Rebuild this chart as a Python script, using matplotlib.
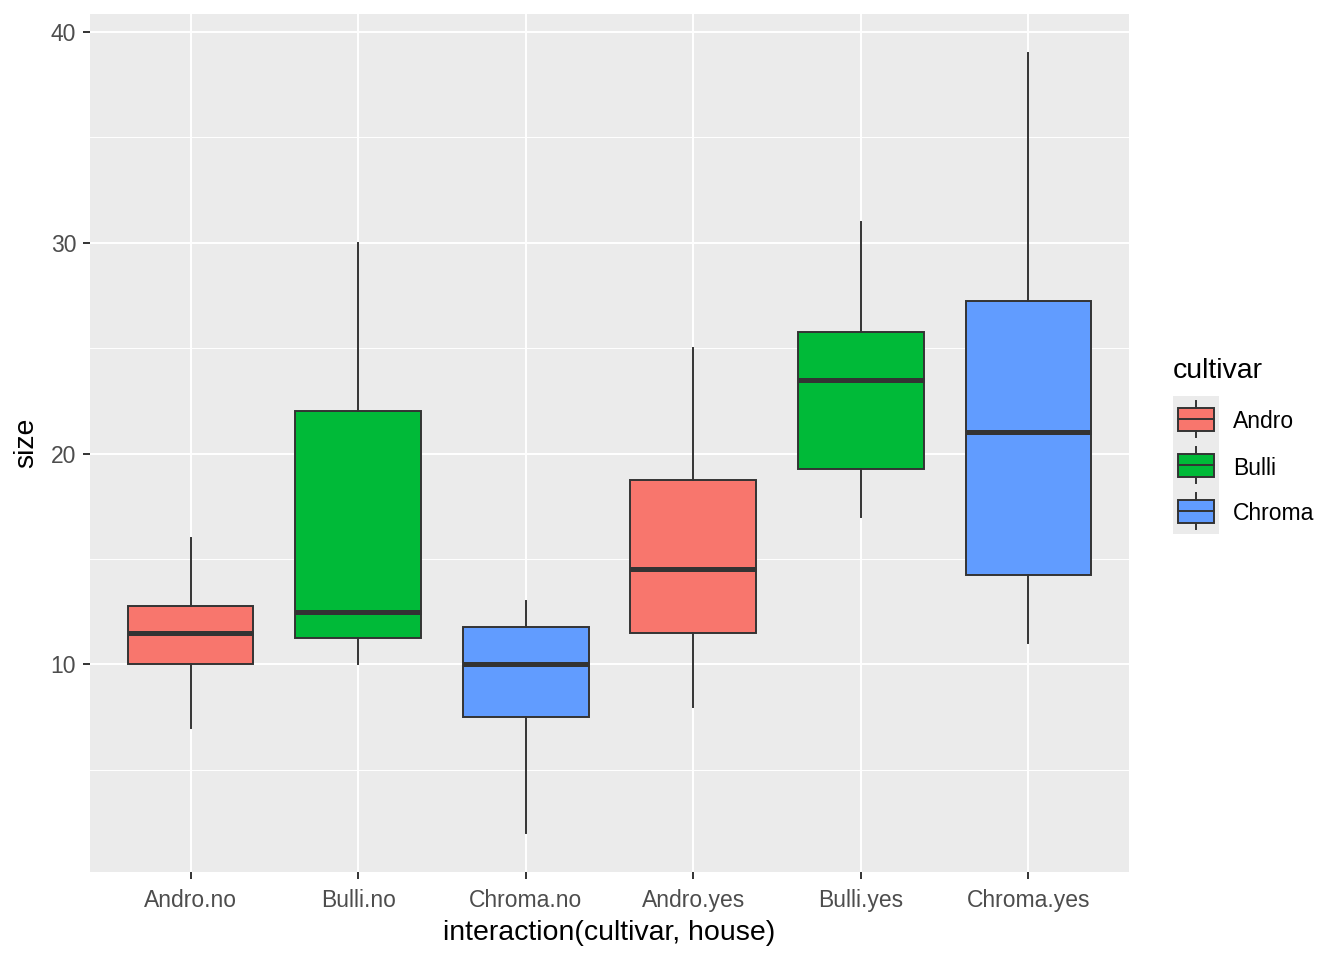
import matplotlib.pyplot as plt
from matplotlib.patches import Rectangle

plt.rcParams['font.family'] = ['Liberation Sans', 'DejaVu Sans']

# data
groups = ['Andro.no', 'Bulli.no', 'Chroma.no', 'Andro.yes', 'Bulli.yes', 'Chroma.yes']
cultivar = ['Andro', 'Bulli', 'Chroma', 'Andro', 'Bulli', 'Chroma']
whislo = [7, 10, 2, 8, 17, 11]
q1 = [10, 11.25, 7.5, 11.5, 19.25, 14.25]
med = [11.5, 12.5, 10, 14.5, 23.5, 21]
q3 = [12.75, 22, 11.75, 18.75, 25.75, 27.25]
whishi = [16, 30, 13, 25, 31, 39]

levels = ['Andro', 'Bulli', 'Chroma']
colors = {'Andro': '#F8766D', 'Bulli': '#00BA38', 'Chroma': '#619CFF'}
edge = '#333333'

fig = plt.figure(figsize=(13.44, 9.6), dpi=100)
ax = fig.add_axes([90/1344, 88/960, (1129-90)/1344, (872-14)/960])
ax.set_facecolor('#EBEBEB')
for s in ax.spines.values():
    s.set_visible(False)

stats = []
for i in range(len(groups)):
    stats.append({'whislo': whislo[i], 'q1': q1[i], 'med': med[i], 'q3': q3[i],
                  'whishi': whishi[i], 'fliers': [], 'label': groups[i]})

pos = list(range(1, len(groups) + 1))
bp = ax.bxp(stats, positions=pos, widths=0.75, patch_artist=True, showcaps=False,
            boxprops=dict(edgecolor=edge, linewidth=1.4),
            whiskerprops=dict(color=edge, linewidth=1.4),
            medianprops=dict(color=edge, linewidth=3.6, solid_capstyle='butt'),
            zorder=3)
for box, c in zip(bp['boxes'], cultivar):
    box.set_facecolor(colors[c])

ax.set_xlim(0.4, 6.6)
ax.set_ylim(0.15, 40.85)
ax.set_yticks([10, 20, 30, 40])
ax.set_yticks([5, 15, 25, 35], minor=True)
ax.set_xticks(pos)
ax.set_xticklabels(groups)
ax.grid(True, which='major', color='white', linewidth=1.4, zorder=0)
ax.grid(True, which='minor', axis='y', color='white', linewidth=0.7, zorder=0)
ax.set_axisbelow(True)
ax.tick_params(which='major', length=5, width=1.4, color=edge, labelsize=16.5,
               labelcolor='#4D4D4D')
ax.tick_params(axis='x', pad=7)
ax.tick_params(axis='y', pad=5)
ax.tick_params(which='minor', length=0)
ax.set_xlabel('interaction(cultivar, house)', fontsize=20.5, labelpad=6)
ax.set_ylabel('size', fontsize=20.5, labelpad=8)

# legend drawn like ggplot keys
lax = fig.add_axes([1173/1344, (960-534)/960, 46/1344, 138/960])
lax.set_xlim(0, 1)
lax.set_ylim(0, 3)
lax.axis('off')
lax.add_patch(Rectangle((0, 0), 1, 3, facecolor='#EBEBEB', edgecolor='none'))
for k, lev in enumerate(levels):
    y0 = 2 - k
    lax.plot([0.5, 0.5], [y0 + 0.1, y0 + 0.25], color=edge, lw=1.4)
    lax.plot([0.5, 0.5], [y0 + 0.75, y0 + 0.9], color=edge, lw=1.4)
    lax.add_patch(Rectangle((0.1, y0 + 0.25), 0.8, 0.5, facecolor=colors[lev],
                            edgecolor=edge, lw=1.4))
    lax.plot([0.1, 0.9], [y0 + 0.5, y0 + 0.5], color=edge, lw=1.4)
    fig.text(1233/1344, (960 - (396 + 46*k + 26))/960, lev, fontsize=16.5,
             va='center', ha='left')
fig.text(1173/1344, (960-371)/960, 'cultivar', fontsize=20.5, va='center', ha='left')

fig.savefig('out.png', dpi=100)
